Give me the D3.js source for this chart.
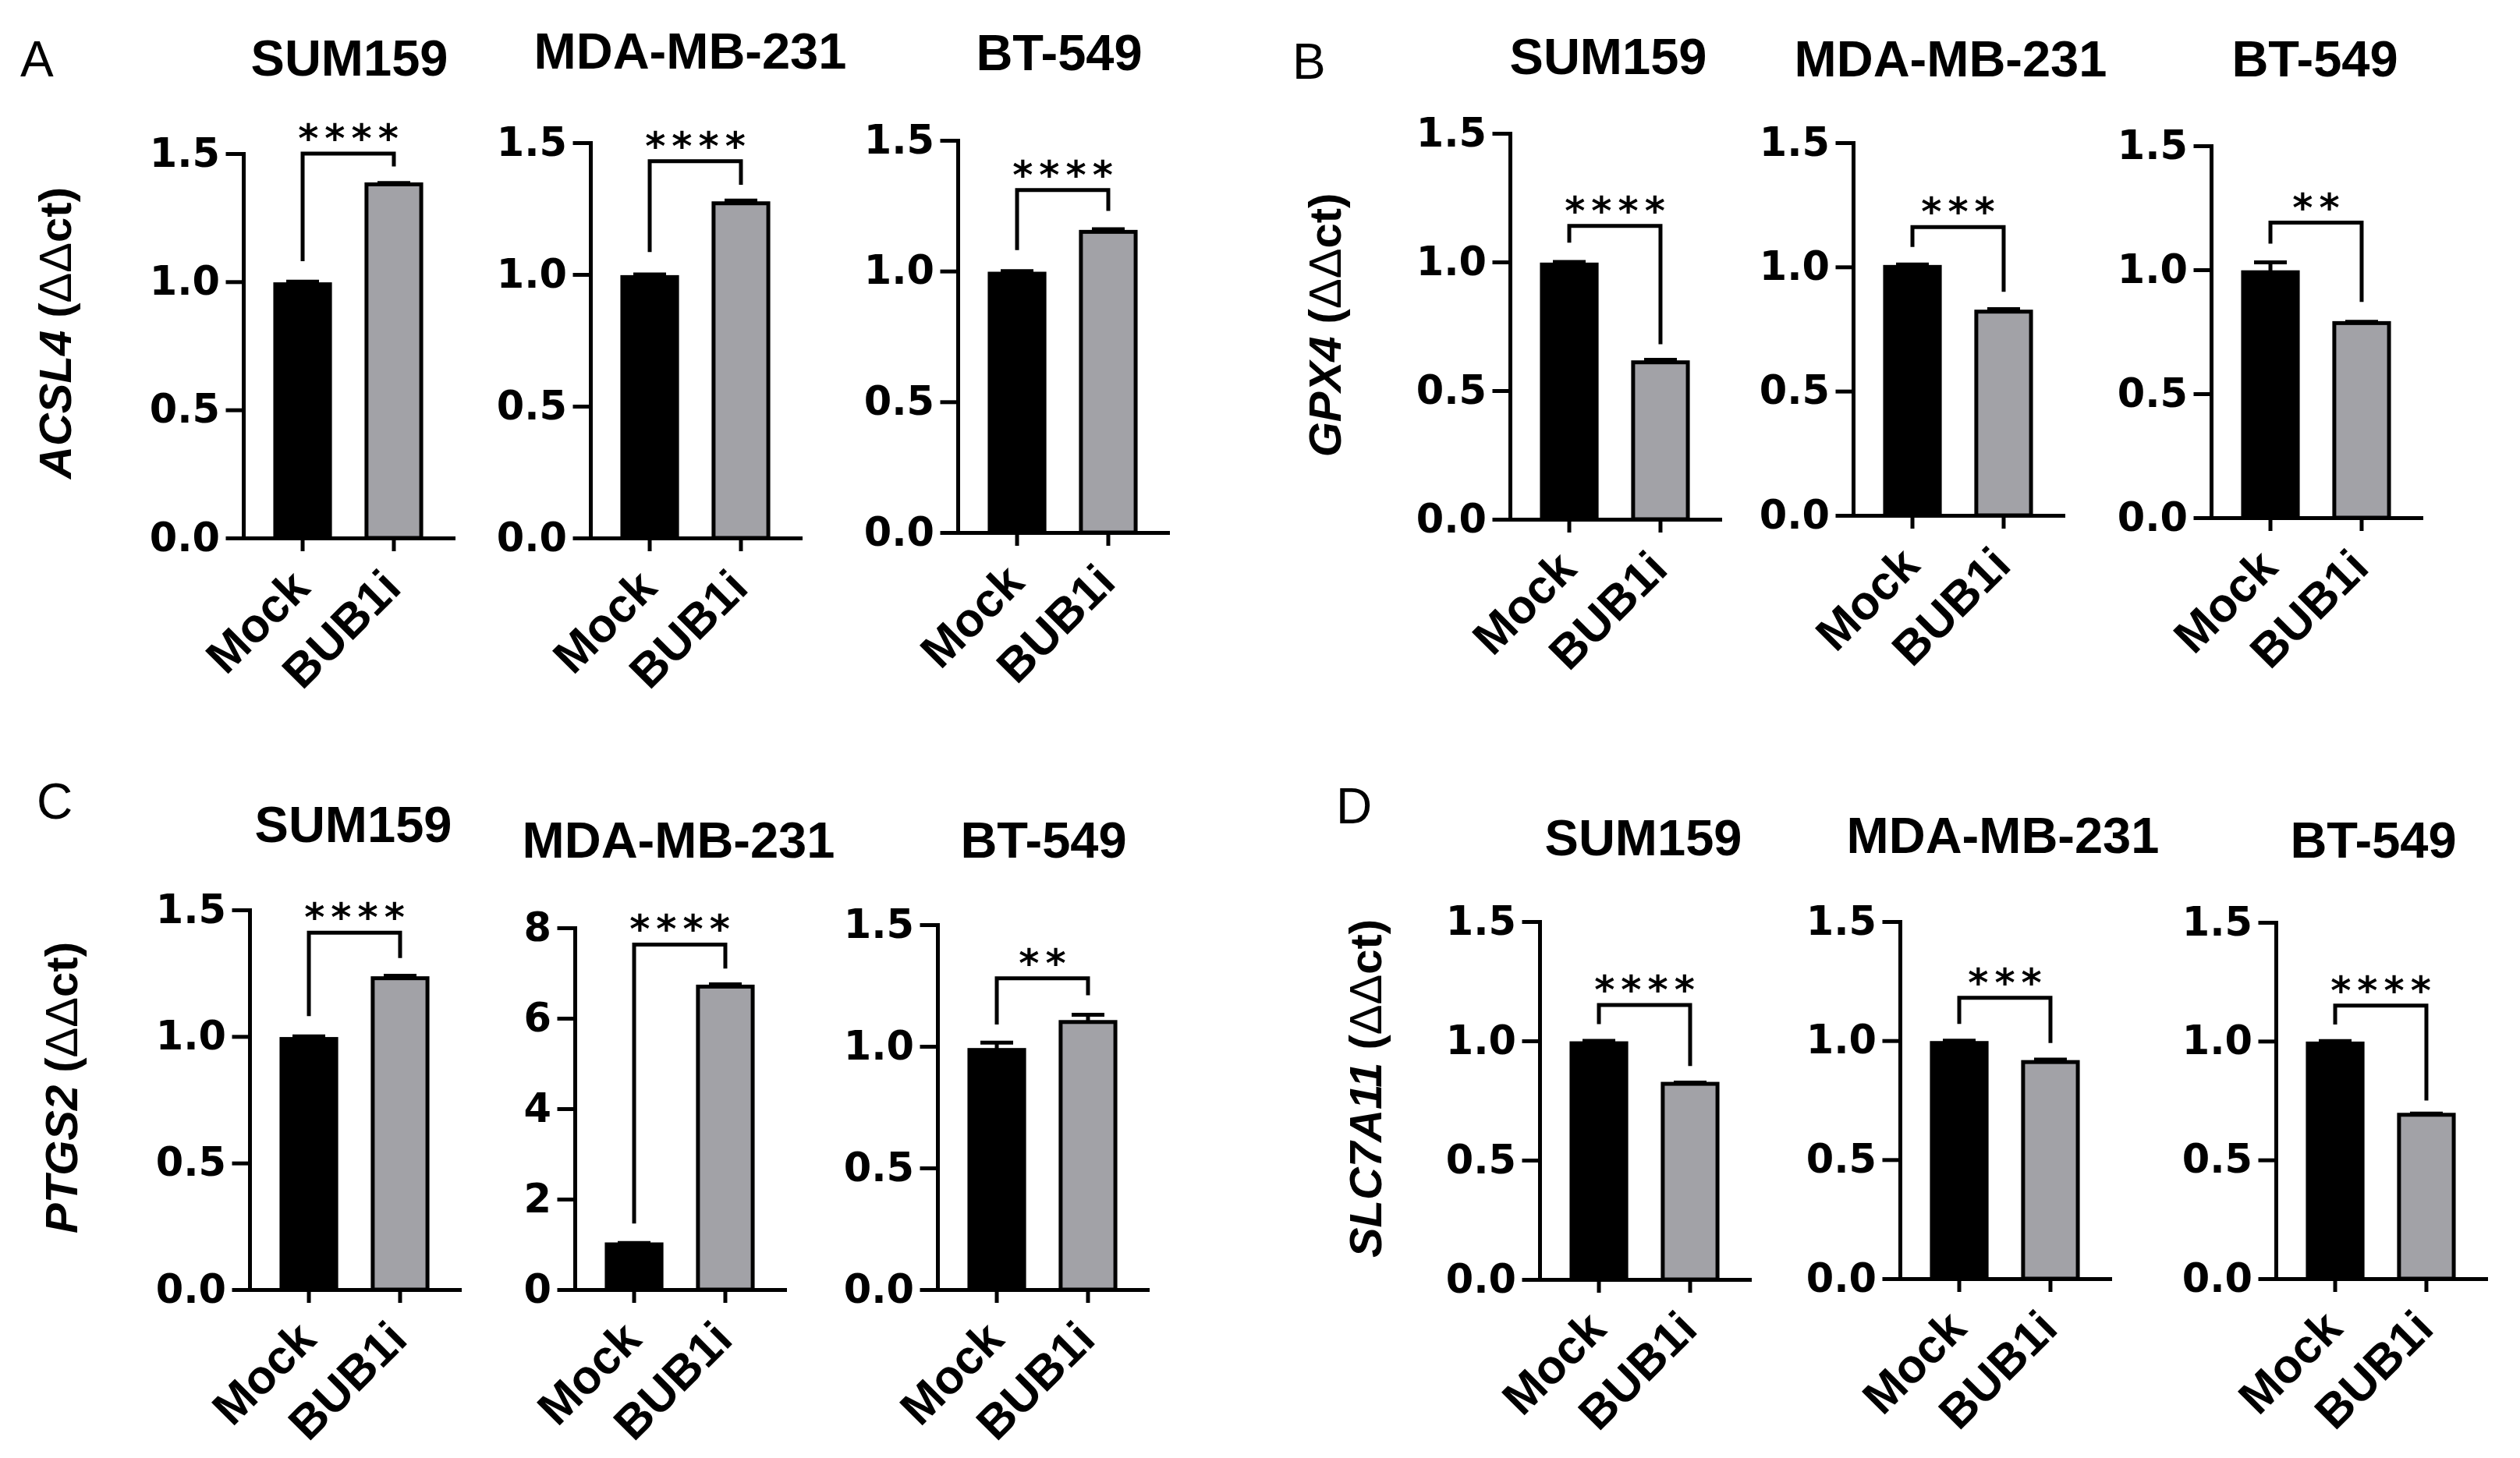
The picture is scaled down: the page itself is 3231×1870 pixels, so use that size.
<!DOCTYPE html>
<html>
<head>
<meta charset="utf-8">
<script src="https://cdn.jsdelivr.net/npm/d3@7"></script>
<style>
  body { margin: 0; background: #fff; }
  svg { display: block; }
</style>
</head>
<body>
<svg id="fig"></svg>
<script>
// ---- data ----
var panelLetters = ["A", "B", "C", "D"];
var genes = ["ACSL4", "GPX4", "PTGS2", "SLC7A11"];
var cellLines = ["SUM159", "MDA-MB-231", "BT-549"];
var groups = ["Mock", "BUB1i"];

var mockMean  = [[0.99, 0.99, 0.99], [0.99, 1.00, 0.99], [0.99, 1.00, 0.985], [0.99, 0.99, 0.99]];
var mockErr   = [[0.01, 0.01, 0.01], [0.01, 0.01, 0.04], [0.01, 0.03, 0.03],  [0.01, 0.01, 0.01]];
var bub1iMean = [[1.38, 1.27, 1.15], [0.61, 0.82, 0.785], [1.23, 6.70, 1.10], [0.82, 0.91, 0.69]];
var bub1iErr  = [[0.005, 0.01, 0.01], [0.01, 0.01, 0.005], [0.01, 0.05, 0.03], [0.005, 0.01, 0.005]];

var yMax = [[1.5, 1.5, 1.5], [1.5, 1.5, 1.5], [1.5, 8, 1.5], [1.5, 1.5, 1.5]];
var ticksRatio = [0, 0.5, 1.0, 1.5];
var ticksFold = [0, 2, 4, 6, 8];

var stars = [["****", "****", "****"], ["****", "***", "**"], ["****", "****", "**"], ["****", "***", "****"]];
// bracket: top level, end of left leg, end of right leg (data units)
var bracketTop   = [[1.50, 1.43, 1.31], [1.14, 1.16, 1.19], [1.41, 7.63, 1.28], [1.15, 1.18, 1.15]];
var bracketLeft  = [[1.08, 1.085, 1.08], [1.075, 1.08, 1.105], [1.08, 1.46, 1.09], [1.07, 1.07, 1.07]];
var bracketRight = [[1.45, 1.34, 1.23], [0.68, 0.90, 0.87], [1.31, 7.10, 1.21], [0.895, 0.99, 0.75]];

// ---- layout (pixels) ----
var W = 3231, H = 1870;
var plotW = 269;
var axisX = [[312, 757, 1228], [1936, 2376, 2835], [320, 737, 1202], [1974, 2436, 2918]];
var yZero = [[690, 690, 683], [666, 661, 664], [1654, 1654, 1654], [1641, 1640, 1640]];
var yTop  = [[197, 183, 180], [171, 183, 187], [1167, 1190, 1186], [1182, 1182, 1183]];
var titleX = [[448, 885, 1358], [2062, 2501, 2968], [453, 870, 1338], [2107, 2568, 3043]];
var titleY = [[97, 88, 90], [95, 98, 98], [1080, 1100, 1100], [1097, 1094, 1100]];
var letterPos = [[26, 98], [1657, 101], [47, 1050], [1713, 1056]];
var yLabelPos = [[70, 427], [1698, 417], [78, 1395], [1750, 1396]];

var LW = 5;
var grey = "#a2a2a7";
var tickFont = "'DejaVu Sans', sans-serif";
var textFont = "'Liberation Sans', Arial, sans-serif";

var svg = d3.select("#fig").attr("width", W).attr("height", H);
svg.append("rect").attr("width", W).attr("height", H).attr("fill", "#fff");

for (var p = 0; p < 4; p++) {
    // panel letter
    svg.append("text")
        .attr("x", letterPos[p][0]).attr("y", letterPos[p][1])
        .style("font-family", textFont).style("font-size", "64px")
        .text(panelLetters[p]);

    // y label: gene in bold italic
    var yl = svg.append("text")
        .attr("transform", "translate(" + yLabelPos[p][0] + "," + yLabelPos[p][1] + ") rotate(-90)")
        .attr("text-anchor", "middle").attr("dominant-baseline", "central")
        .style("font-family", textFont).style("font-size", "58px").style("font-weight", "bold");
    yl.append("tspan").style("font-style", "italic").text(genes[p]);
    yl.append("tspan").text(" (");
    yl.append("tspan").style("font-weight", "normal").text("\u0394\u0394");
    yl.append("tspan").text("ct)");

    for (var i = 0; i < 3; i++) {
        drawPlot(p, i);
    }
}

function drawPlot(p, i) {
    var ax = axisX[p][i];
    var y0 = yZero[p][i];
    var g = svg.append("g");

    var y = d3.scaleLinear().domain([0, yMax[p][i]]).range([y0, yTop[p][i]]);
    var x = d3.scaleBand().domain(groups).range([ax, ax + plotW])
        .paddingInner(0.4).paddingOuter(0.35);
    var bw = x.bandwidth();

    var bars = [
        {g: "Mock", v: mockMean[p][i], e: mockErr[p][i], fill: "#000"},
        {g: "BUB1i", v: bub1iMean[p][i], e: bub1iErr[p][i], fill: grey}
    ];

    // title
    svg.append("text")
        .attr("x", titleX[p][i]).attr("y", titleY[p][i])
        .attr("text-anchor", "middle")
        .style("font-family", textFont).style("font-size", "65px").style("font-weight", "bold")
        .text(cellLines[i]);

    // error bars
    g.selectAll(".err").data(bars).enter().append("path")
        .attr("class", "err")
        .attr("d", function(d) {
            var cx = x(d.g) + bw / 2;
            var yt = y(d.v + d.e);
            return "M" + cx + "," + y(d.v) + "V" + yt + "M" + (cx - 21) + "," + yt + "H" + (cx + 21);
        })
        .attr("stroke", "#000").attr("stroke-width", LW).attr("fill", "none");

    g.selectAll(".bar").data(bars).enter().append("rect")
        .attr("class", "bar")
        .attr("x", function(d) { return x(d.g); })
        .attr("width", bw)
        .attr("y", function(d) { return y(d.v); })
        .attr("height", function(d) { return y0 - y(d.v); })
        .attr("fill", function(d) { return d.fill; })
        .attr("stroke", "#000").attr("stroke-width", LW);

    // y axis
    var ticks = yMax[p][i] > 2 ? ticksFold : ticksRatio;
    var fmt = yMax[p][i] > 2 ? d3.format("d") : d3.format(".1f");
    var ya = g.append("g").attr("transform", "translate(" + ax + ",0)")
        .call(d3.axisLeft(y).tickValues(ticks).tickFormat(fmt)
            .tickSize(20).tickSizeOuter(0).tickPadding(10));
    ya.selectAll("path, line").attr("stroke", "#000").attr("stroke-width", LW)
        .attr("stroke-linecap", "square");
    ya.selectAll("text").style("font-family", tickFont).style("font-size", "51px")
        .style("font-weight", "bold").attr("fill", "#000");

    // x axis
    var xa = g.append("g").attr("transform", "translate(0," + y0 + ")")
        .call(d3.axisBottom(x).tickSize(17).tickSizeOuter(0));
    xa.selectAll("path, line").attr("stroke", "#000").attr("stroke-width", LW);
    xa.select(".domain").attr("stroke-linecap", "square");
    xa.selectAll("text")
        .attr("x", 0).attr("y", 0).attr("dy", 0)
        .attr("transform", "translate(12,67) rotate(-45)")
        .style("text-anchor", "end")
        .style("font-family", textFont).style("font-size", "61px")
        .style("font-weight", "bold").attr("fill", "#000");

    // significance bracket
    var xl = x("Mock") + bw / 2, xr = x("BUB1i") + bw / 2;
    var yb = y(bracketTop[p][i]);
    g.append("path")
        .attr("d", "M" + xl + "," + y(bracketLeft[p][i]) + "V" + yb + "H" + xr + "V" + y(bracketRight[p][i]))
        .attr("stroke", "#000").attr("stroke-width", LW).attr("fill", "none");
    g.append("text")
        .attr("x", (xl + xr) / 2 + 4).attr("y", yb - 2)
        .attr("text-anchor", "middle")
        .style("font-family", tickFont).style("font-size", "50px").style("font-weight", "bold")
        .style("letter-spacing", "8px")
        .text(stars[p][i]);
}
</script>
</body>
</html>
